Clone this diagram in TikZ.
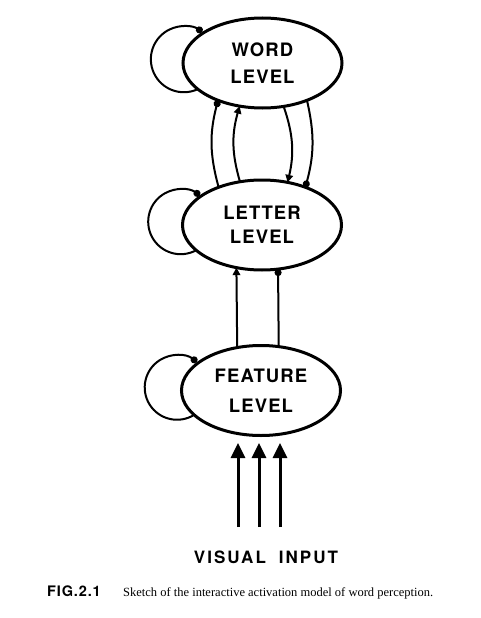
\documentclass[tikz,border=0pt]{standalone}
\usepackage{fontspec}
\setmainfont{Liberation Serif}
\newfontfamily\heros{TeX Gyre Heros}
\newfontfamily\herosls[LetterSpace=6]{TeX Gyre Heros}
\newfontfamily\herosin[LetterSpace=12]{TeX Gyre Heros}
\usetikzlibrary{arrows.meta,shapes.geometric}
\begin{document}
\begin{tikzpicture}[x=1pt,y=1pt,
  level/.style={ellipse, draw, line width=3pt, fill=white, minimum width=159pt, minimum height=90pt,
    inner sep=0pt, outer sep=0pt, align=center, font=\herosls\bfseries\fontsize{18.5}{27.5}\selectfont},
  conn/.style={line width=2pt},
  exc/.style={conn, -{Triangle[width=7.5pt,length=7.5pt]}},
  inh/.style={conn, -{Circle[length=7pt]}},
  inputarrow/.style={line width=3pt, -{Triangle[width=14pt,length=15pt]}}
]
\useasboundingbox (0,0) rectangle (480,-618);
\fill[white] (0,0) rectangle (480,-618);

% levels
\node[level] (word) at (262.5,-63) {WORD\\LEVEL};
\node[level] (letter) at (262,-225) {LETTER\\[-4pt]LEVEL};
\node[level] (feature) at (261,-390.5) {FEATURE\\[2.5pt]LEVEL};

% self loops
\draw[inh] (word.202.9) arc[start angle=-65, end angle=-304, radius=33];
\draw[inh] (letter.201.9) arc[start angle=-61.5, end angle=-306, radius=32.5];
\draw[inh] (feature.200.9) arc[start angle=-58, end angle=-308, radius=32.3];

% word <-> letter
\draw[inh] (letter.139.6) to[bend left=15] (word.220);
\draw[exc] (letter.117) to[bend left=16] (word.242.5);
\draw[exc] (word.296.4) to[bend left=16] (letter.59.6);
\draw[inh] (word.320) to[bend left=14] (letter.41.1);

% feature -> letter
\draw[exc] (feature.119.2) -- (letter.239.7);
\draw[inh] (feature.68.9) -- (letter.290);

% visual input
\node[anchor=base, inner sep=0pt, font=\herosin\bfseries\fontsize{17}{20}\selectfont] (input) at (266,-563.3) {VISUAL\hspace{13pt}INPUT};
\coordinate (in1) at (238,-527);
\coordinate (in2) at (259,-527);
\coordinate (in3) at (280,-527);
\draw[inputarrow] (in1) -- ++(0,84);
\draw[inputarrow] (in2) -- ++(0,84);
\draw[inputarrow] (in3) -- ++(0,84);

% caption
\node[anchor=base west, inner sep=0pt, font=\herosls\bfseries\fontsize{14.5}{16}\selectfont] (fig) at (47,-596) {FIG.2.1};
\node[anchor=base west, inner sep=0pt, font=\fontsize{12.5}{15}\selectfont] (cap) at (123,-596) {Sketch of the interactive activation model of word perception.};
\end{tikzpicture}
\end{document}
